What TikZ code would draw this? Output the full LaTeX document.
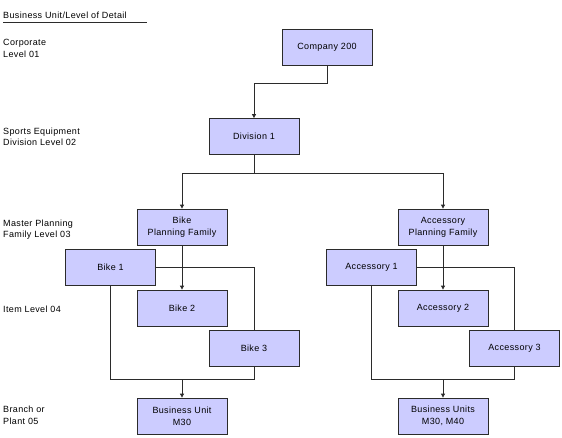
\documentclass[tikz,border=0pt]{standalone}
\usepackage{fontspec}
\setmainfont{Liberation Sans}[LetterSpace=4]
\usepackage{tikz}
\usetikzlibrary{arrows.meta,positioning}
\definecolor{buFill}{HTML}{CCCCFF}
\definecolor{buLine}{HTML}{2B2B2B}

\begin{document}
\begin{tikzpicture}[
  x=1pt, y=-1pt,
  font=\fontsize{9}{11.7}\selectfont,
  unit/.style={draw=buLine, fill=buFill, line width=0.8pt,
    minimum width=90pt, minimum height=36pt, align=center, inner sep=1pt},
  link/.style={draw=buLine, line width=0.8pt},
  arr/.style={link, -{Triangle[length=4pt,width=4pt]}},
  lvl/.style={anchor=north west, align=left, inner sep=0pt},
]
\useasboundingbox (0,0) rectangle (562,437);

% level captions
\node[anchor=base west, inner sep=0pt] (head) at (3,18) {Business Unit/Level of Detail};
\draw[link] (3,22) coordinate (hl) -- (147,22) coordinate (hr);
\node[lvl] (l01) at (3,39.5) {Corporate\\Level 01};
\node[lvl] (l02) at (3,127.5) {Sports Equipment\\Division Level 02};
\node[lvl] (l03) at (3,219.5) {Master Planning\\Family Level 03};
\node[lvl] (l04) at (3,306.2) {Item Level 04};
\node[lvl] (l05) at (3,406.2) {Branch or\\Plant 05};

% hierarchy
\node[unit] (comp) at (327,47) {Company 200};
\node[unit] (div) at (254,136.5) {Division 1};
\node[unit] (bpf) at (182,227) {Bike\\Planning Family};
\node[unit] (apf) at (443,227) {Accessory\\Planning Family};
\node[unit] (b1) at (110.5,267.5) {Bike 1};
\node[unit] (b2) at (182,308) {Bike 2};
\node[unit] (b3) at (254,348) {Bike 3};
\node[unit] (a1) at (371.5,267.5) {Accessory 1};
\node[unit] (a2) at (443,308) {Accessory 2};
\node[unit] (a3) at (514.5,348) {Accessory 3};
\node[unit] (bu) at (182,416) {Business Unit\\M30};
\node[unit] (bus) at (443,416) {Business Units\\M30, M40};

\draw[arr] (comp.south) -- ++(0,18) -| (div.north);
\draw[link] (div.south) -- ++(0,18) coordinate (split);
\draw[arr] (split) -| (bpf.north);
\draw[arr] (split) -| (apf.north);

\draw[arr] (bpf.south) -- (b2.north);
\draw[link] (b1.east) -| (b3.north);
\coordinate (bjoin) at (182,379.5);
\draw[link] (b1.south) -- (b1.south |- bjoin) -- (b3.south |- bjoin) -- (b3.south);
\draw[arr] (bjoin) -- (bu.north);

\draw[arr] (apf.south) -- (a2.north);
\draw[link] (a1.east) -| (a3.north);
\coordinate (ajoin) at (443,379.5);
\draw[link] (a1.south) -- (a1.south |- ajoin) -- (a3.south |- ajoin) -- (a3.south);
\draw[arr] (ajoin) -- (bus.north);
\end{tikzpicture}
\end{document}
